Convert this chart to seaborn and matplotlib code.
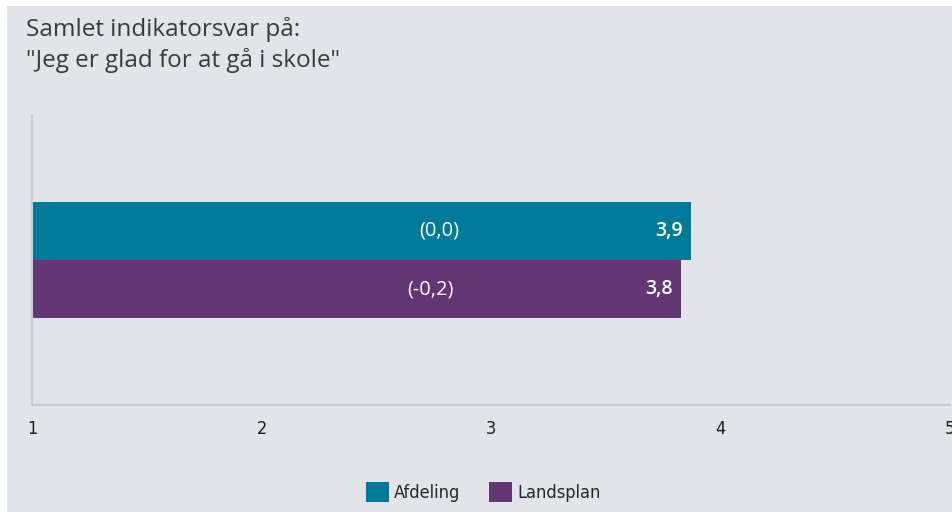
import matplotlib.pyplot as plt
import matplotlib.patches as mpatches
import pandas as pd
import seaborn as sns

# data
groups = ["Afdeling", "Landsplan"]
values = [3.87, 3.83]
value_labels = ["3,9", "3,8"]
diff_labels = ["(0,0)", "(-0,2)"]
x_ticks = [1, 2, 3, 4, 5]
title = 'Samlet indikatorsvar på:\n"Jeg er glad for at gå i skole"'

colors = ["#007A99", "#633674"]
bg = "#E1E4E8"
axis_col = "#C8CBCF"

df = pd.DataFrame({"gruppe": groups, "verdi": values, "kat": [""] * len(groups)})

sns.set_theme(style="white")
plt.rcParams['font.family'] = ['Open Sans', 'DejaVu Sans']

fig = plt.figure(figsize=(9.53, 5.12), dpi=100)
fig.patch.set_facecolor("white")
# grey panel, leaves a thin white strip at the top and the left edge
fig.patches.append(mpatches.Rectangle((7 / 953, 0), 1, 506 / 512, transform=fig.transFigure,
                                      facecolor=bg, edgecolor="none", zorder=-10))

ax = fig.add_axes([32 / 953, 107 / 512, 918 / 953, 290 / 512])
ax.set_facecolor("none")

sns.barplot(data=df, x="verdi", y="kat", hue="gruppe", orient="h", palette=colors,
            width=0.403, dodge=True, saturation=1, legend=False, linewidth=0, ax=ax)

ax.set_xlim(1, 5)
ax.set_ylim(0.5, -0.5)
ax.set_xticks(x_ticks)
ax.set_xticklabels([str(t) for t in x_ticks], fontsize=13, color="#1E1E1E",
                   family="DejaVu Sans", fontstretch="condensed")
ax.set_yticks([0])
ax.set_yticklabels([""])
ax.set_xlabel("")
ax.set_ylabel("")
ax.tick_params(axis="both", length=6, width=1.2, color=axis_col, pad=5)
for side in ["top", "right"]:
    ax.spines[side].set_visible(False)
for side in ["left", "bottom"]:
    ax.spines[side].set_color(axis_col)
    ax.spines[side].set_linewidth(1.5)

# labels inside the bars
for bar, v, d in zip(ax.patches, value_labels, diff_labels):
    end = bar.get_x() + bar.get_width()
    yc = bar.get_y() + bar.get_height() / 2
    ax.annotate(v, (end, yc), xytext=(-6, 0), textcoords="offset points",
                ha="right", va="center", color="white", fontsize=14, fontweight="semibold")
    ax.annotate(d, (end, yc), xytext=(-181, 0), textcoords="offset points",
                ha="center", va="center", color="white", fontsize=14.5)

fig.text(26 / 953, 1 - 17 / 512, title, ha="left", va="top", fontsize=17.5,
         color="#3A3A3A", linespacing=1.3)

handles = [mpatches.Patch(facecolor=c, edgecolor="none") for c in colors]
leg = fig.legend(handles, groups, loc="center", bbox_to_anchor=(483 / 953, 20 / 512),
                 ncol=2, frameon=False, handlelength=1.3, handleheight=1.3,
                 handletextpad=0.25, columnspacing=1.6,
                 prop={"family": "DejaVu Sans", "stretch": "condensed", "size": 13})

fig.savefig("out.png", dpi=100, facecolor=fig.get_facecolor())
